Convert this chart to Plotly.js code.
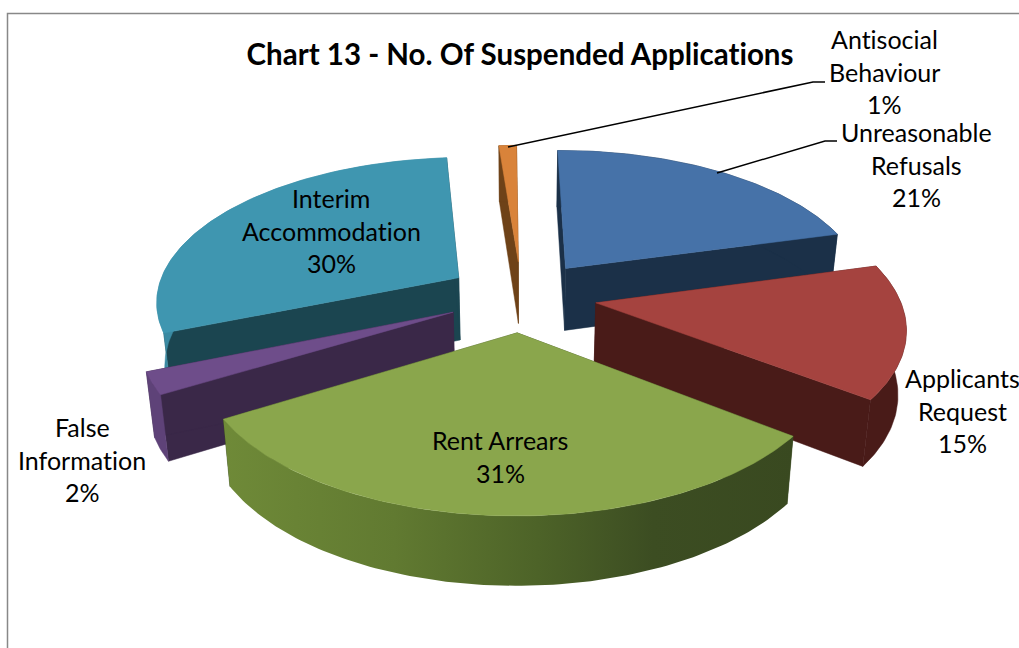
<!DOCTYPE html>
<html><head><meta charset="utf-8">
<script src="https://cdn.plot.ly/plotly-3.0.0.min.js"></script>
<style>html,body{margin:0;padding:0;background:#fff;overflow:hidden}
svg text,svg tspan{font-variant-ligatures:none !important;font-feature-settings:"liga" 0,"clig" 0,"dlig" 0 !important;text-rendering:optimizeSpeed !important}</style>
</head><body><div id="chart" style="width:1019px;height:648px"></div>
<script>
// data, clockwise from the top of the pie (shares)
const categories = ["Unreasonable Refusals","Applicants Request","Rent Arrears","False Information","Interim Accommodation","Antisocial Behaviour"];
const values = [20.9,14.6,31.05,2.4,29.95,1.1];
// styles
const topColors  = ["#4672a8","#a5433f","#8aa64c","#6e4d8a","#3f96b0","#d9833a"];
const wallColors = ["#1b3048","#491b18","#3a4a20","#3a2848","#1b4550","#6e4218"];
const rimColors  = ["#1b3048","#491b18","#3a4a20","#5e4278","#3a8aa2","#6e4218"];
const drawOrder  = [5,0,4,3,1,2];
// label text and positions
const labelLines = [["Unreasonable","Refusals","21%"],["Applicants","Request","15%"],["Rent Arrears","31%"],["False","Information","2%"],["Interim","Accommodation","30%"],["Antisocial","Behaviour","1%"]];
const labelX = [916,962,500,82,331,884];
const labelY = [132,378,440,427,198,39];
const lineGap = 32.5;
const leaderX = [[717,825,837],[508,813,825]];
const leaderY = [[173,141,141],[147,82,82]];
// projection settings
const cx=521.5, cy=296, R=303, tilt=0.473, persp=0.15, explode=0.248, first=-0.5, lowScale=0.978;

const rad=d=>d*Math.PI/180;
function proj(X,V,low){
  const s=1/(1-persp*V);
  const x=cx+R*X*s;
  return [low?cx+(x-cx)*lowScale:x, cy+R*tilt*V*s+(low?63+5.5*V:0)];
}
const total=values.reduce((a,b)=>a+b,0);
let acc=first;
const slices=values.map(v=>{const a0=acc;acc+=v/total*360;return [a0,acc];});
function poly(pts,color,grad){
  const t={type:"scatter",mode:"lines",x:pts.map(p=>p[0]),y:pts.map(p=>p[1]),fill:"toself",fillcolor:color,
    line:{color:color,width:0.5},hoverinfo:"skip",showlegend:false};
  if(grad) {t.fillgradient=grad; t.line={width:0,color:"rgba(0,0,0,0)"};}
  return t;
}
const traces=[];
drawOrder.forEach(i=>{
  const [a0,a1]=slices[i],mid=rad((a0+a1)/2);
  const ox=explode*Math.sin(mid),ov=-explode*Math.cos(mid);
  const pt=(a,low)=>proj(ox+Math.sin(rad(a)),ov-Math.cos(rad(a)),low);
  const apex=low=>proj(ox,ov,low);
  const arc=low=>{const r=[];const n=Math.max(4,Math.ceil((a1-a0)));for(let k=0;k<=n;k++)r.push(pt(a0+(a1-a0)*k/n,low));return r;};
  traces.push(poly([apex(false),pt(a0,false),pt(a0,true),apex(true),apex(false)],wallColors[i]));
  traces.push(poly([apex(false),pt(a1,false),pt(a1,true),apex(true),apex(false)],wallColors[i]));
  const rim=arc(false).concat(arc(true).reverse());rim.push(rim[0]);
  if(i===2){
    traces.push(poly(rim,rimColors[i],{type:"horizontal",start:222,stop:796,
      colorscale:[[0,"#6f8a38"],[0.3,"#617a31"],[0.55,"#4d6328"],[0.75,"#3c4d22"],[1,"#394920"]]}));
  } else traces.push(poly(rim,rimColors[i]));
  const face=[apex(false)].concat(arc(false));face.push(face[0]);
  traces.push(poly(face,topColors[i]));
});
leaderX.forEach((xs,i)=>traces.push({type:"scatter",mode:"lines",x:xs,y:leaderY[i],line:{color:"#000",width:1.5},hoverinfo:"skip",showlegend:false}));

const annotations=[];
labelLines.forEach((lines,i)=>lines.forEach((t,j)=>annotations.push({
  x:labelX[i],y:labelY[i]+j*lineGap,xref:"x",yref:"y",text:t,showarrow:false,xanchor:"center",yanchor:"middle",
  font:{family:"Lato, Carlito, sans-serif",size:25,color:"#000"}})));

Plotly.newPlot("chart",traces,{
  width:1019,height:648,margin:{l:0,r:0,t:0,b:0},paper_bgcolor:"#fff",plot_bgcolor:"#fff",
  title:{text:"<b>Chart 13 - No. Of Suspended Applications</b>",font:{family:"Lato, Carlito, sans-serif",size:29.5,color:"#000"},x:520/1019,xanchor:"center",y:1-55/648,yanchor:"middle"},
  xaxis:{range:[0,1019],visible:false,fixedrange:true},
  yaxis:{range:[648,0],visible:false,fixedrange:true},
  annotations:annotations,
  shapes:[{type:"rect",xref:"x",yref:"y",x0:7.5,y0:13.5,x1:1040,y1:680,line:{color:"#888",width:1.5},fillcolor:"rgba(0,0,0,0)",layer:"below"}]
},{displayModeBar:false,staticPlot:true});
</script></body></html>
